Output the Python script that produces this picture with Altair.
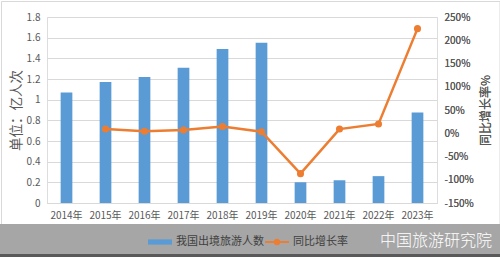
import altair as alt
import pandas as pd

years = ["2014年", "2015年", "2016年", "2017年", "2018年", "2019年", "2020年", "2021年", "2022年", "2023年"]
travelers = [1.07, 1.17, 1.22, 1.31, 1.49, 1.55, 0.20, 0.22, 0.26, 0.875]
growth = [None, 0.09, 0.043, 0.07, 0.147, 0.033, -0.869, 0.09, 0.20, 2.25]
series_names = ["我国出境旅游人数", "同比增长率"]
left_ticks = [0, 0.2, 0.4, 0.6, 0.8, 1.0, 1.2, 1.4, 1.6, 1.8]
right_ticks = [-1.5, -1.0, -0.5, 0, 0.5, 1.0, 1.5, 2.0, 2.5]

df = pd.DataFrame({"year": years, "travelers": travelers, "growth": growth})

FONT = "Noto Sans CJK SC"
BLUE = "#5b9bd5"
ORANGE = "#ed7d31"
W, H = 390, 186
PL, PT = 47, 17

xenc = alt.X("year:N", sort=years, title=None,
             scale=alt.Scale(paddingInner=0.7, paddingOuter=0.35),
             axis=alt.Axis(labelAngle=0, ticks=False, grid=False, domainColor="#d9d9d9",
                           labelPadding=7, labelFontSize=10, labelColor="#595959"))

bars = alt.Chart(df).mark_bar(color=BLUE).encode(
    x=xenc,
    y=alt.Y("travelers:Q", title="单位：亿人次",
            scale=alt.Scale(domain=[0, 1.8], nice=False),
            axis=alt.Axis(values=left_ticks, format=".1~f", domain=False, ticks=False,
                          gridColor="#d9d9d9", labelPadding=7, labelFontSize=10,
                          labelColor="#595959", titleFontSize=13.5, titleColor="#595959",
                          titleFontWeight="normal", titlePadding=3)),
    fill=alt.Fill("s:N", scale=alt.Scale(domain=[series_names[0]], range=[BLUE]),
                  legend=alt.Legend(title=None, orient="none", legendX=101, legendY=213,
                                    symbolType="M-1,-0.22H1V0.22H-1Z", symbolSize=576,
                                    symbolStrokeWidth=0, labelFontSize=11,
                                    labelColor="#404040", labelFont=FONT, labelOffset=4)),
).transform_calculate(s="'" + series_names[0] + "'")

line_base = alt.Chart(df).transform_filter("isValid(datum.growth)").transform_calculate(
    s="'" + series_names[1] + "'")

right_axis = alt.Axis(orient="right", values=right_ticks, grid=False, domain=False,
                      ticks=False, labelExpr="round(datum.value*100) + '%'",
                      labelPadding=7, labelFontSize=10, labelColor="#595959",
                      titleFontSize=12, titleColor="#595959", titleFontWeight="normal",
                      titleAngle=270, titleBaseline="top", titlePadding=7)
yline = alt.Y("growth:Q", title="同比增长率%",
              scale=alt.Scale(domain=[-1.5, 2.5], nice=False), axis=right_axis)

line = line_base.mark_line(strokeWidth=2.5, color=ORANGE).encode(
    x=alt.X("year:N", sort=years),
    y=yline,
    stroke=alt.Stroke("s:N", scale=alt.Scale(domain=[series_names[1]], range=[ORANGE]),
                      legend=alt.Legend(title=None, orient="none", legendX=218, legendY=213,
                                        symbolType="M-1,-0.09H1V0.09H-1Z M-0.28,0A0.28,0.28 0 1,1 0.28,0A0.28,0.28 0 1,1 -0.28,0Z",
                                        symbolSize=576, symbolFillColor=ORANGE,
                                        symbolStrokeWidth=0, labelFontSize=11,
                                        labelColor="#404040", labelFont=FONT, labelOffset=4)),
)
points = line_base.mark_point(filled=True, size=50, color=ORANGE, opacity=1).encode(
    x=alt.X("year:N", sort=years),
    y=yline,
)

frame = alt.Chart(alt.Data(values=[{}])).mark_rect(fillOpacity=0, stroke="#d9d9d9", strokeWidth=1).encode(
    x=alt.value(-PL + 1.5), x2=alt.value(500 - PL), y=alt.value(-PT + 1.5), y2=alt.value(257 - PT))
band = alt.Chart(alt.Data(values=[{}])).mark_rect(color="#a6a6a6").encode(
    x=alt.value(-PL), x2=alt.value(500 - PL), y=alt.value(224 - PT), y2=alt.value(257 - PT))
edge = alt.Chart(alt.Data(values=[{}])).mark_rect(fill="#595959").encode(
    x=alt.value(-PL), x2=alt.value(500 - PL), y=alt.value(254 - PT), y2=alt.value(257 - PT))
watermark = alt.Chart(alt.Data(values=[{}])).mark_text(
    text="中国旅游研究院", font=FONT, fontSize=16, color="white", align="right",
    baseline="middle", fontWeight=300).encode(x=alt.value(492 - PL), y=alt.value(241 - PT))

decor = alt.layer(frame, band, edge, watermark)
main = alt.layer(bars, line, points).resolve_scale(y="independent")

chart = alt.layer(decor, main).resolve_scale(y="independent").properties(
    width=W, height=H,
    autosize=alt.AutoSizeParams(type="none"),
    padding={"left": PL, "top": PT, "right": 500 - PL - W, "bottom": 257 - PT - H},
    background="white",
).configure_view(stroke=None).configure(font=FONT)

chart.save("out.html", embed_options={"renderer": "svg", "actions": False})
